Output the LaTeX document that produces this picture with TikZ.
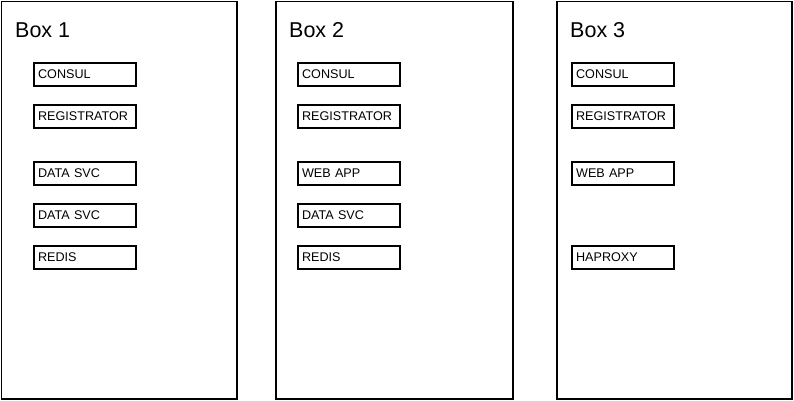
\documentclass[tikz,border=0pt]{standalone}
\usepackage{fontspec}
\setmainfont{Liberation Sans}
\begin{document}
\begin{tikzpicture}[x=1pt,y=-1pt,
  bigbox/.style={draw=black,line width=1.6pt},
  svc/.style={draw=black,line width=2.2pt,fill=white,minimum width=102pt,minimum height=23pt,
     inner sep=0pt,font=\fontsize{12.6}{14}\selectfont,text width=94pt,align=left,anchor=north west},
  title/.style={font=\fontsize{21.5}{24}\selectfont,anchor=base west,inner sep=0pt}]
\useasboundingbox (0,0) rectangle (794,401);
\fill[white] (0,0) rectangle (794,401);
% boxes
\draw[bigbox] (1.5,1.5) rectangle (237,399);
\draw[bigbox] (276,1.5) rectangle (513,399);
\draw[bigbox] (557,1.5) rectangle (792,399);
\node[title] (t1) at (15,38) {Box 1};
\node[title] (t2) at (289,38) {Box 2};
\node[title] (t3) at (570,38) {Box 3};
% box 1
\node[svc] (a1) at (33,62) {CONSUL};
\node[svc] (a2) at (33,104) {REGISTRATOR};
\node[svc] (a3) at (33,161) {DATA SVC};
\node[svc] (a4) at (33,203) {DATA SVC};
\node[svc] (a5) at (33,245) {REDIS};
% box 2
\node[svc] (b1) at (297,62) {CONSUL};
\node[svc] (b2) at (297,104) {REGISTRATOR};
\node[svc] (b3) at (297,161) {WEB APP};
\node[svc] (b4) at (297,203) {DATA SVC};
\node[svc] (b5) at (297,245) {REDIS};
% box 3
\node[svc] (c1) at (571,62) {CONSUL};
\node[svc] (c2) at (571,104) {REGISTRATOR};
\node[svc] (c3) at (571,161) {WEB APP};
\node[svc] (c4) at (571,245) {HAPROXY};
\end{tikzpicture}
\end{document}
